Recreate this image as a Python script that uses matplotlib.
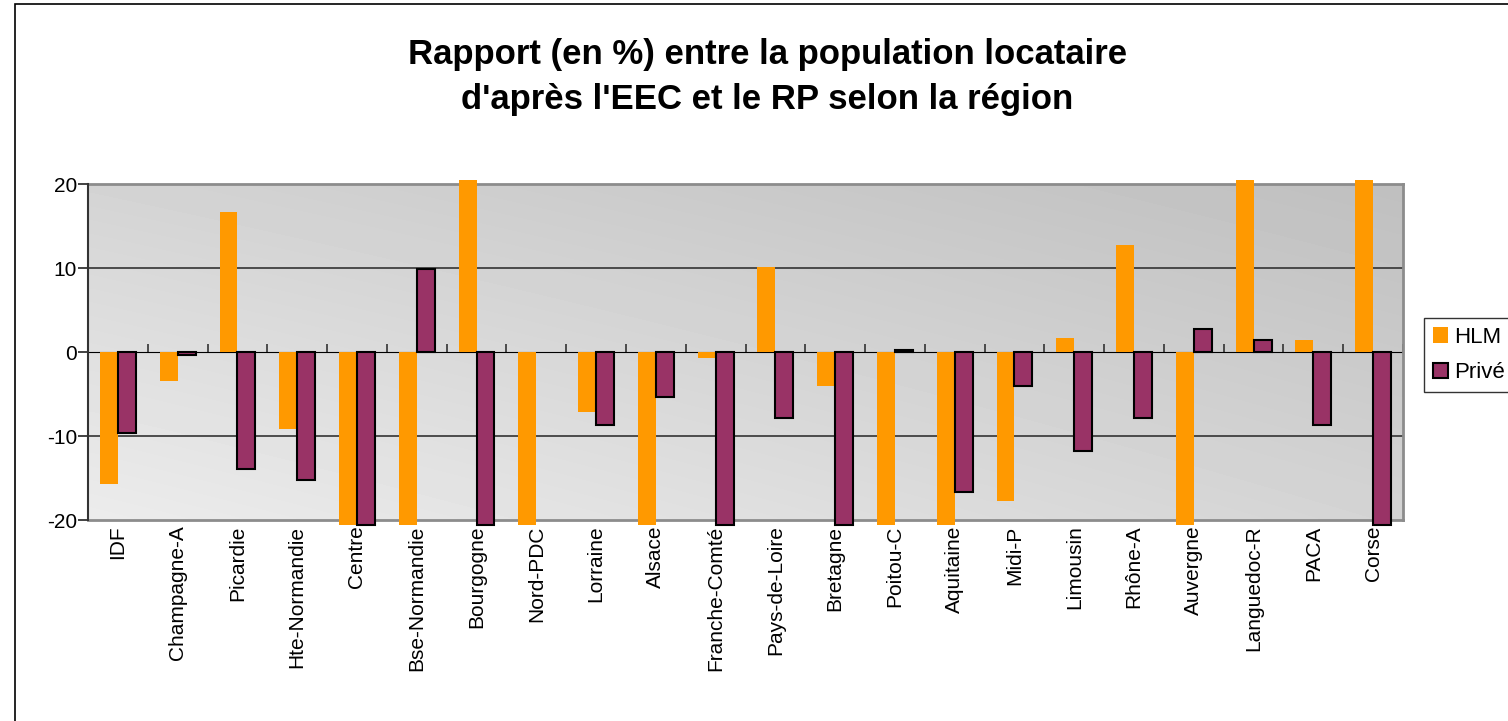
import numpy as np
import matplotlib
matplotlib.use("Agg")
import matplotlib.pyplot as plt
from matplotlib.patches import Rectangle

# -------------------------
# Data
# -------------------------

regions = ["IDF", "Champagne-A", "Picardie", "Hte-Normandie", "Centre", "Bse-Normandie",
           "Bourgogne", "Nord-PDC", "Lorraine", "Alsace", "Franche-Comté", "Pays-de-Loire",
           "Bretagne", "Poitou-C", "Aquitaine", "Midi-P", "Limousin", "Rhône-A", "Auvergne",
           "Languedoc-R", "PACA", "Corse"]
# bars beyond the axis range are drawn just past the frame, as in the reference
hlm = [-15.7, -3.5, 16.7, -9.2, -20.6, -20.6, 20.5, -20.6, -7.1, -20.6, -0.7, 10.1,
       -4.0, -20.6, -20.6, -17.7, 1.7, 12.7, -20.6, 20.5, 1.4, 20.5]
prive = [-9.7, -0.4, -13.9, -15.2, -20.6, 9.9, -20.6, np.nan, -8.7, -5.4, -20.6, -7.9,
         -20.6, 0.2, -16.7, -4.1, -11.8, -7.9, 2.7, 1.4, -8.7, -20.6]
yticks = [-20, -10, 0, 10, 20]

title = "Rapport (en %) entre la population locataire\nd'après l'EEC et le RP selon la région"

# -------------------------
# Figure
# -------------------------

plt.rcParams['font.family'] = ['Liberation Sans', 'DejaVu Sans']

fig = plt.figure(figsize=(15.08, 7.21), dpi=100)
fig.patches.append(Rectangle((15 / 1508, -0.1), 1.2, 1.1 - 4 / 721, transform=fig.transFigure,
                             fill=False, edgecolor="black", linewidth=1.2))

ax = fig.add_axes([88 / 1508, 1 - 520 / 721, (1403 - 88) / 1508, (520 - 184) / 721])

# gray gradient background
ny, nx = 100, 200
u = np.linspace(0, 1, nx)[None, :]
v = np.linspace(0, 1, ny)[:, None]  # 0 = top
tl, tr, bl, br = 0.83, 0.75, 0.925, 0.83
grad = (1 - v) * ((1 - u) * tl + u * tr) + v * ((1 - u) * bl + u * br)
ax.imshow(grad, cmap="gray", vmin=0, vmax=1, extent=[0, 1, 0, 1], transform=ax.transAxes,
          aspect="auto", zorder=0, interpolation="bilinear")

x = np.arange(len(regions))
w = 0.3
b1 = ax.bar(x - w / 2, hlm, w, color="#FF9900", zorder=3, clip_on=False, label="HLM")
b2 = ax.bar(x + w / 2, prive, w, color="#993366", edgecolor="black", linewidth=1.5, zorder=3,
            clip_on=False, label="Privé")

ax.set_xlim(-0.5, len(regions) - 0.5)
ax.set_ylim(-20, 20)
ax.set_yticks(yticks)
ax.set_yticklabels([str(t) for t in yticks])
for t in [-10, 10]:
    ax.axhline(t, color="#333333", linewidth=1.2, zorder=1)

for s in ["top", "right", "bottom"]:
    ax.spines[s].set_color("#8c8c8c")
    ax.spines[s].set_linewidth(2)
ax.spines["left"].set_color("#333333")
ax.spines["left"].set_linewidth(1.5)
ax.spines["left"].set_zorder(4)

ax.set_xticks(x)
ax.set_xticklabels(regions, rotation=90, fontsize=15)
ax.tick_params(axis="x", length=0, pad=4)
ax.tick_params(axis="y", length=7, width=1.3, color="#333333", pad=1, labelsize=15)

# zero axis with category boundary ticks
zero = ax.secondary_xaxis(0.5)
zero.set_xticks(np.arange(len(regions) + 1) - 0.5)
zero.set_xticklabels([])
zero.tick_params(axis="x", direction="out", length=6, width=1.2, color="#333333")
zero.spines["bottom"].set_color("#333333")
zero.spines["bottom"].set_linewidth(1.5)

fig.text(0.509, 1 - 77 / 721, title, ha="center", va="center", fontsize=25,
         fontweight="bold", linespacing=1.45)

leg = fig.legend(handles=[b1, b2], loc="upper left", bbox_to_anchor=(1424 / 1508, 1 - 318 / 721),
                 fontsize=16, frameon=True, fancybox=False, borderaxespad=0,
                 handlelength=0.7, handleheight=0.7, handletextpad=0.25,
                 labelspacing=0.65, borderpad=0.4)
leg.get_frame().set_edgecolor("black")
leg.get_frame().set_linewidth(1.0)

fig.savefig("out.png", dpi=100)
